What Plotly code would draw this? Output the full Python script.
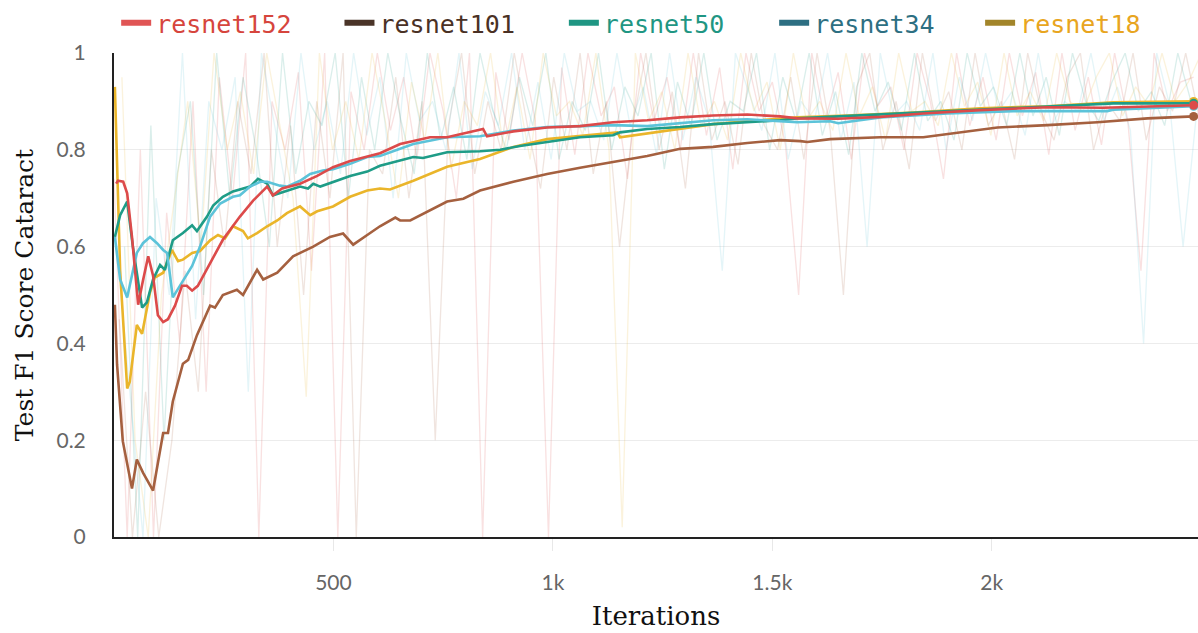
import plotly.graph_objects as go

# ---------------- data ----------------
SERIES = ["resnet152", "resnet101", "resnet50", "resnet34", "resnet18"]

X_TICK_VALS = [500, 1000, 1500, 2000]
X_TICK_TEXT = ["500", "1k", "1.5k", "2k"]
Y_TICK_VALS = [0, 0.2, 0.4, 0.6, 0.8, 1]
Y_TICK_TEXT = ["0", "0.2", "0.4", "0.6", "0.8", "1"]

# smoothed curves (iteration, F1)
r152_x = [5, 9, 21, 30, 41, 55, 66, 78, 89, 100, 112, 123, 139, 155, 166, 178, 191, 219, 248, 287,
          317, 349, 362, 383, 424, 463, 499, 538, 577, 606, 652, 720, 759, 841, 850, 910, 987, 1062,
          1137, 1215, 1290, 1365, 1443, 1518, 1557, 1650, 1746, 1844, 1974, 2127, 2254, 2355, 2460]
r152_y = [0.73, 0.736, 0.734, 0.71, 0.62, 0.48, 0.53, 0.58, 0.54, 0.458, 0.444, 0.45, 0.478, 0.519,
          0.519, 0.509, 0.519, 0.566, 0.614, 0.662, 0.695, 0.724, 0.706, 0.72, 0.73, 0.746, 0.764,
          0.777, 0.787, 0.793, 0.812, 0.826, 0.826, 0.843, 0.828, 0.838, 0.846, 0.849, 0.857, 0.861,
          0.867, 0.871, 0.873, 0.869, 0.865, 0.864, 0.868, 0.875, 0.882, 0.888, 0.887, 0.889, 0.892]

r101_x = [2, 7, 20, 41, 52, 66, 89, 112, 123, 134, 157, 169, 189, 219, 230, 248, 280, 294, 326, 340,
          372, 408, 454, 492, 522, 545, 577, 606, 641, 652, 675, 720, 759, 796, 834, 910, 987, 1062,
          1137, 1215, 1290, 1365, 1443, 1518, 1564, 1580, 1632, 1746, 1844, 1935, 2013, 2127, 2241,
          2355, 2460]
r101_y = [0.48, 0.356, 0.198, 0.10, 0.16, 0.133, 0.096, 0.215, 0.215, 0.28, 0.358, 0.366, 0.417,
          0.478, 0.474, 0.50, 0.511, 0.50, 0.552, 0.532, 0.546, 0.58, 0.60, 0.62, 0.627, 0.604, 0.624,
          0.642, 0.66, 0.654, 0.654, 0.675, 0.693, 0.699, 0.716, 0.734, 0.75, 0.763, 0.775, 0.787,
          0.802, 0.806, 0.814, 0.82, 0.818, 0.816, 0.822, 0.826, 0.826, 0.836, 0.846, 0.851, 0.857,
          0.865, 0.869]

r50_x = [2, 14, 30, 43, 64, 75, 89, 105, 116, 128, 134, 157, 178, 189, 212, 226, 248, 271, 294, 310,
         328, 349, 362, 394, 424, 442, 454, 470, 499, 538, 577, 606, 682, 704, 759, 834, 880, 925, 987,
         1062, 1137, 1153, 1215, 1290, 1365, 1443, 1518, 1557, 1746, 1974, 2127, 2277, 2460]
r50_y = [0.62, 0.665, 0.693, 0.60, 0.474, 0.485, 0.532, 0.562, 0.552, 0.593, 0.613, 0.628, 0.644,
         0.632, 0.662, 0.685, 0.703, 0.714, 0.72, 0.724, 0.74, 0.73, 0.706, 0.716, 0.724, 0.72, 0.73,
         0.724, 0.734, 0.746, 0.755, 0.767, 0.785, 0.783, 0.795, 0.797, 0.80, 0.808, 0.816, 0.826,
         0.83, 0.836, 0.843, 0.847, 0.853, 0.857, 0.861, 0.865, 0.873, 0.882, 0.889, 0.896, 0.896]

r34_x = [2, 14, 30, 52, 66, 82, 98, 112, 121, 134, 155, 178, 196, 219, 242, 271, 287, 310, 333, 349,
         378, 394, 424, 447, 476, 499, 538, 577, 606, 682, 759, 834, 910, 987, 1062, 1137, 1215, 1290,
         1365, 1443, 1518, 1557, 1632, 1650, 1746, 1899, 2049, 2263, 2277, 2460]
r34_y = [0.62, 0.532, 0.495, 0.587, 0.607, 0.62, 0.607, 0.593, 0.587, 0.495, 0.526, 0.56, 0.60,
         0.662, 0.689, 0.703, 0.706, 0.724, 0.734, 0.734, 0.726, 0.724, 0.736, 0.75, 0.757, 0.76,
         0.771, 0.785, 0.787, 0.812, 0.826, 0.828, 0.84, 0.847, 0.849, 0.851, 0.849, 0.855, 0.861,
         0.863, 0.859, 0.857, 0.859, 0.855, 0.867, 0.875, 0.88, 0.88, 0.883, 0.89]

r18_x = [2, 14, 30, 36, 52, 64, 82, 93, 112, 132, 146, 157, 178, 196, 219, 237, 253, 271, 294, 305,
         326, 349, 372, 394, 424, 447, 463, 499, 538, 577, 606, 629, 682, 759, 834, 910, 987, 1062,
         1147, 1153, 1215, 1290, 1365, 1443, 1518, 1557, 1671, 1821, 1974, 2127, 2277, 2460]
r18_y = [0.93, 0.55, 0.307, 0.321, 0.438, 0.42, 0.505, 0.536, 0.546, 0.593, 0.57, 0.573, 0.587,
         0.591, 0.613, 0.624, 0.617, 0.642, 0.632, 0.617, 0.628, 0.642, 0.654, 0.669, 0.683, 0.665,
         0.673, 0.683, 0.703, 0.716, 0.72, 0.718, 0.736, 0.765, 0.781, 0.806, 0.822, 0.828, 0.836,
         0.826, 0.834, 0.843, 0.853, 0.859, 0.865, 0.867, 0.871, 0.877, 0.886, 0.89, 0.898, 0.90]

# raw (unsmoothed) values, logged every 30 iterations (each run starts at its own first step)
RAW_STEP = 30
RAW_FIRST_STEP = [0, 12, 24, 6, 18]
raw152 = [0.74, 0.0, 0.8, 0.0, 0.67, 0.4, 0.9, 0.3, 0.95, 0.7,
          1.0, 0.0, 0.9, 0.8, 0.96, 0.55, 1.0, 0.0, 0.92, 0.8,
          1.0, 0.84, 0.95, 0.78, 1.0, 0.88, 0.7, 1.0, 0.0, 0.96,
          0.82, 1.0, 0.86, 0.0, 0.97, 0.79, 1.0, 0.87, 0.93, 0.74,
          1.0, 0.86, 0.95, 0.8, 1.0, 0.83, 0.97, 0.76, 1.0, 0.88,
          0.94, 0.81, 0.5, 1.0, 0.86, 0.96, 0.78, 1.0, 0.89, 0.93,
          0.8, 1.0, 0.9, 0.74, 1.0, 0.85, 0.95, 0.82, 1.0, 0.87,
          0.96, 0.79, 1.0, 0.84, 0.95, 0.81, 1.0, 0.86, 0.55, 1.0,
          0.88, 0.94, 0.95]
raw101 = [0.45, 0.0, 0.3, 0.0, 0.2, 0.55, 0.3, 0.8, 0.6, 0.9,
          0.75, 1.0, 0.6, 0.85, 0.5, 0.9, 0.7, 1.0, 0.0, 0.8,
          0.75, 0.95, 0.7, 0.9, 0.2, 0.85, 1.0, 0.75, 0.9, 0.8,
          1.0, 0.85, 0.72, 0.95, 0.8, 1.0, 0.75, 0.9, 0.6, 0.85,
          1.0, 0.8, 0.92, 0.72, 1.0, 0.82, 0.9, 0.77, 1.0, 0.85,
          0.8, 0.95, 0.78, 1.0, 0.84, 0.5, 0.93, 1.0, 0.8, 0.9,
          0.76, 1.0, 0.86, 0.92, 0.8, 1.0, 0.85, 0.9, 0.78, 1.0,
          0.88, 0.82, 0.95, 1.0, 0.8, 0.9, 0.86, 1.0, 0.82, 0.93,
          0.88, 1.0, 0.87]
raw50 = [0.6, 0.0, 0.85, 0.2, 0.75, 0.9, 0.5, 1.0, 0.7, 0.95,
         0.8, 0.6, 1.0, 0.75, 0.9, 0.85, 1.0, 0.7, 0.95, 0.8,
         1.0, 0.86, 0.75, 1.0, 0.82, 0.93, 0.78, 1.0, 0.88, 0.8,
         0.95, 0.85, 1.0, 0.78, 0.9, 0.84, 1.0, 0.8, 0.93, 0.87,
         1.0, 0.76, 0.94, 0.85, 1.0, 0.82, 0.9, 0.88, 1.0, 0.8,
         0.95, 0.86, 1.0, 0.83, 0.92, 0.79, 1.0, 0.88, 0.94, 0.84,
         1.0, 0.86, 0.9, 0.82, 1.0, 0.89, 0.93, 0.85, 1.0, 0.87,
         0.95, 0.83, 1.0, 0.9, 0.86, 0.94, 1.0, 0.88, 0.92, 0.85,
         1.0, 0.9, 0.88]
raw34 = [0.6, 0.3, 0.0, 0.7, 0.5, 1.0, 0.45, 0.9, 0.8, 0.95,
         0.3, 1.0, 0.85, 0.7, 1.0, 0.8, 0.9, 0.75, 1.0, 0.83,
         0.95, 0.7, 1.0, 0.86, 0.9, 0.8, 1.0, 0.76, 0.92, 0.85,
         1.0, 0.8, 0.94, 0.78, 1.0, 0.88, 0.9, 0.82, 1.0, 0.85,
         0.93, 0.79, 1.0, 0.82, 0.95, 0.86, 0.55, 1.0, 0.92, 0.84,
         1.0, 0.78, 0.9, 0.86, 1.0, 0.82, 0.94, 0.6, 1.0, 0.87,
         0.9, 0.84, 1.0, 0.8, 0.95, 0.86, 1.0, 0.88, 0.92, 0.83,
         1.0, 0.85, 0.9, 0.88, 1.0, 0.86, 0.93, 0.84, 0.4, 1.0,
         0.89, 0.6, 0.87]
raw18 = [0.95, 0.2, 0.0, 0.5, 0.7, 0.9, 0.6, 1.0, 0.8, 0.92,
         0.75, 1.0, 0.85, 0.7, 0.29, 1.0, 0.8, 0.9, 0.78, 1.0,
         0.86, 0.7, 0.94, 0.82, 1.0, 0.76, 0.9, 0.85, 1.0, 0.8,
         0.93, 0.78, 1.0, 0.87, 0.9, 0.83, 1.0, 0.8, 0.02, 1.0,
         0.86, 0.92, 0.8, 1.0, 0.85, 0.9, 0.82, 1.0, 0.88, 0.94,
         0.8, 1.0, 0.86, 0.9, 0.84, 1.0, 0.87, 0.93, 0.82, 1.0,
         0.88, 0.9, 0.85, 1.0, 0.89, 0.94, 0.83, 1.0, 0.87, 0.92,
         0.86, 1.0, 0.9, 0.88, 0.95, 1.0, 0.87, 0.93, 0.89, 1.0,
         0.9, 0.94, 1.0]

# ---------------- styles ----------------
LINE_COLORS = ["#dc4a4a", "#a5603f", "#1e9c87", "#5cc3d9", "#eab52a"]
SWATCH_COLORS = ["#e05555", "#4a3428", "#1f9683", "#2d6f82", "#a2852a"]
TEXT_COLORS = ["#d6453d", "#4a3125", "#1f9683", "#2d6f82", "#e8a520"]
LEGEND_X = [0.002, 0.208, 0.415, 0.609, 0.799]

smooth = [(r152_x, r152_y), (r101_x, r101_y), (r50_x, r50_y), (r34_x, r34_y), (r18_x, r18_y)]
raws = [raw152, raw101, raw50, raw34, raw18]

fig = go.Figure()

# raw faint lines
for k, (vals, col) in enumerate(zip(raws, LINE_COLORS)):
    xs = [RAW_FIRST_STEP[k] + RAW_STEP * i for i in range(len(vals))]
    fig.add_trace(go.Scatter(x=xs, y=vals, mode="lines", line=dict(color=col, width=1.3),
                             opacity=0.16, showlegend=False, hoverinfo="skip"))

# smoothed lines
order = [1, 4, 2, 3, 0]
for k in order:
    xs, ys = smooth[k]
    fig.add_trace(go.Scatter(x=xs, y=ys, mode="lines", line=dict(color=LINE_COLORS[k], width=2.6),
                             showlegend=False, name=SERIES[k]))
for k in order:
    xs, ys = smooth[k]
    fig.add_trace(go.Scatter(x=[xs[-1]], y=[ys[-1]], mode="markers",
                             marker=dict(color=LINE_COLORS[k], size=9), showlegend=False,
                             cliponaxis=False, hoverinfo="skip"))

# legend entries, one legend box per run
legend_layout = {}
for k, name in enumerate(SERIES):
    lname = "legend" if k == 0 else f"legend{k + 1}"
    fig.add_trace(go.Scatter(x=[None], y=[None], mode="lines", legend=lname,
                             line=dict(color=SWATCH_COLORS[k], width=6),
                             name=f"<span style='color:{TEXT_COLORS[k]}'>{name}</span>"))
    legend_layout[lname] = dict(orientation="h", x=LEGEND_X[k], xanchor="left",
                                y=1.062, yanchor="middle",
                                font=dict(family="DejaVu Sans Mono", size=25),
                                itemwidth=30, bgcolor="rgba(0,0,0,0)")

fig.update_layout(
    width=1198, height=633,
    margin=dict(l=114, r=0, t=48, b=96),
    paper_bgcolor="white", plot_bgcolor="white",
    showlegend=True,
    xaxis=dict(range=[0, 2470], tickvals=X_TICK_VALS, ticktext=X_TICK_TEXT,
               showgrid=False, zeroline=False, showline=True, linecolor="#222", linewidth=2,
               ticks="outside", ticklen=12, tickcolor="#e8e8e8", tickwidth=1,
               ticklabelstandoff=14,
               tickfont=dict(family="Lato", size=21, color="#666"),
               title=dict(text="Iterations", font=dict(family="DejaVu Serif", size=26, color="#111"),
                          standoff=14)),
    yaxis=dict(range=[0, 1], tickvals=Y_TICK_VALS, ticktext=Y_TICK_TEXT,
               showgrid=True, gridcolor="#ececec", gridwidth=1, zeroline=False,
               showline=True, linecolor="#222", linewidth=2, ticks="",
               ticklabelstandoff=22,
               tickfont=dict(family="Lato", size=21, color="#666"),
               title=dict(text="Test F1 Score Cataract",
                          font=dict(family="DejaVu Serif", size=25, color="#111"), standoff=16)),
    **legend_layout,
)

fig.write_html("out.html")
